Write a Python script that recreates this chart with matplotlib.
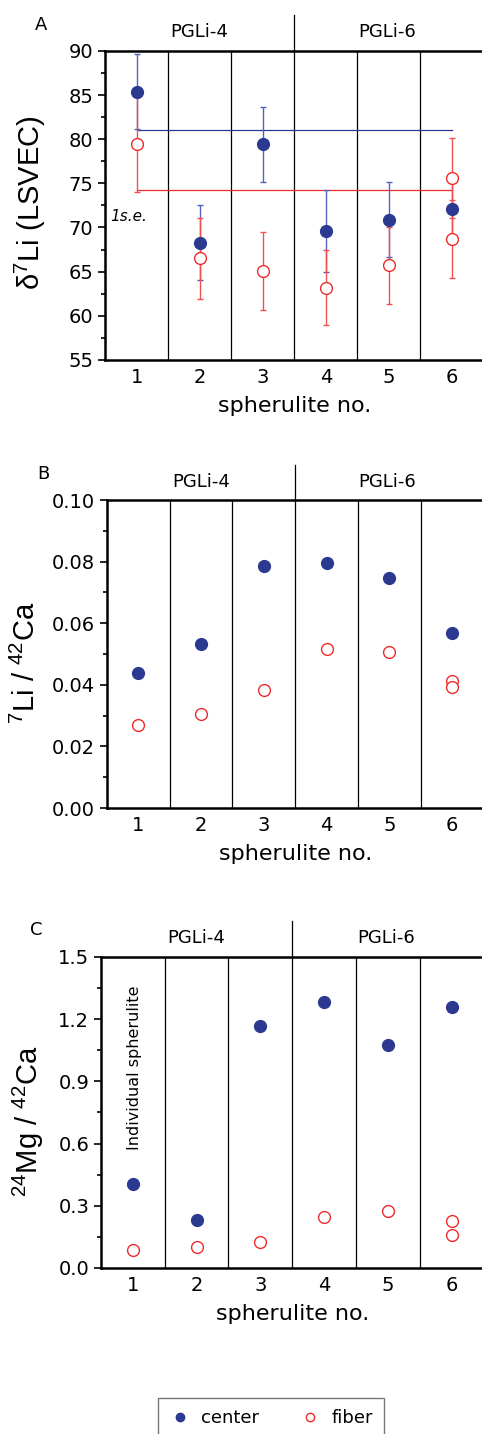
import matplotlib
matplotlib.use("Agg")
import matplotlib.pyplot as plt
from matplotlib.lines import Line2D

plt.rcParams['font.family'] = ['DejaVu Sans']
plt.rcParams['mathtext.fontset'] = 'custom'
plt.rcParams['mathtext.rm'] = 'Liberation Sans'
plt.rcParams['mathtext.it'] = 'Liberation Sans:italic'

# data
spherulite = [1, 2, 3, 4, 5, 6]
fiber_x = [1, 2, 3, 4, 5, 6, 6]

d7li_center = [85.4, 68.3, 79.4, 69.6, 70.9, 72.1]
d7li_center_err = [4.2, 4.3, 4.2, 4.6, 4.2, 4.0]
d7li_fiber = [79.4, 66.5, 65.1, 63.2, 65.7, 75.6, 68.7]
d7li_fiber_err = [5.4, 4.6, 4.4, 4.2, 4.4, 4.5, 4.4]
d7li_center_mean = 81.0
d7li_fiber_mean = 74.3

li_ca_center = [0.0440, 0.0534, 0.0786, 0.0795, 0.0748, 0.0567]
li_ca_fiber = [0.0270, 0.0306, 0.0382, 0.0517, 0.0507, 0.0414, 0.0393]

mg_ca_center = [0.403, 0.229, 1.167, 1.284, 1.076, 1.257]
mg_ca_fiber = [0.087, 0.100, 0.127, 0.246, 0.277, 0.224, 0.161]

dividers = [1.5, 2.5, 3.5, 4.5, 5.5]
group_split = 3.5
groups = ['PGLi-4', 'PGLi-6']
group_pos = [2.0, 4.97]

blue = '#2b3990'
blue_err = '#5562b5'
red = '#ee2a2a'
red_err = '#f05050'

fig = plt.figure(figsize=(4.82, 14.34), dpi=100)

# [left, bottom, width, height]
axA = fig.add_axes([0.218, 0.749, 0.785, 0.2155])
axB = fig.add_axes([0.222, 0.4365, 0.781, 0.2148])
axC = fig.add_axes([0.2095, 0.1158, 0.7935, 0.2169])


def style_axis(ax, letter, ylabel, label_x, label_y):
    ax.set_xlim(0.5, 6.5)
    ax.set_xticks(spherulite)
    for d in dividers:
        ax.axvline(d, color='black', lw=0.9, zorder=1)
    # group separator poking above the frame
    ax.plot([group_split, group_split], [1.0, 1.115], transform=ax.get_xaxis_transform(),
            color='black', lw=0.9, clip_on=False)
    for g, gx in zip(groups, group_pos):
        ax.text(gx, 1.06, g, transform=ax.get_xaxis_transform(), ha='center', va='center',
                fontsize=13)
    ax.text(-0.17, 1.085, letter, transform=ax.transAxes, ha='center', va='center', fontsize=13)
    for s in ['left', 'bottom', 'top']:
        ax.spines[s].set_linewidth(1.8)
    ax.spines['right'].set_visible(False)
    ax.tick_params(axis='y', which='major', direction='out', length=5, width=1.2, labelsize=14)
    ax.tick_params(axis='y', which='minor', direction='out', length=3, width=1.2)
    ax.tick_params(axis='x', length=0, labelsize=14, pad=6)
    ax.set_xlabel('spherulite no.', fontsize=16, labelpad=6)
    ax.set_ylabel(ylabel, fontsize=21, family='Liberation Sans')
    ax.yaxis.set_label_coords(label_x, label_y)


# panel A
axA.errorbar(spherulite, d7li_center, yerr=d7li_center_err, fmt='none', ecolor=blue_err,
             elinewidth=1.0, capsize=2.5, zorder=3)
axA.errorbar(fiber_x, d7li_fiber, yerr=d7li_fiber_err, fmt='none', ecolor=red_err,
             elinewidth=1.0, capsize=2.5, zorder=3)
axA.plot([spherulite[0], spherulite[-1]], [d7li_center_mean] * 2, color=blue, lw=0.9, zorder=2)
axA.plot([spherulite[0], spherulite[-1]], [d7li_fiber_mean] * 2, color=red, lw=0.9, zorder=2)
axA.plot(spherulite, d7li_center, 'o', ms=8.5, color=blue, mec=blue, zorder=5)
axA.plot(fiber_x, d7li_fiber, 'o', ms=8.5, mfc='white', mec=red, mew=1.0, zorder=4)
axA.text(0.585, 71.3, '1s.e.', fontsize=11, style='italic', ha='left', va='center')
axA.set_ylim(55, 90)
axA.set_yticks(range(55, 91, 5))
axA.set_yticks([57.5 + 5 * i for i in range(7)], minor=True)
style_axis(axA, 'A', r'$\mathrm{\delta}^7$Li (LSVEC)', -0.15, 0.51)

# panel B
axB.plot(spherulite, li_ca_center, 'o', ms=8.5, color=blue, zorder=5)
axB.plot(fiber_x, li_ca_fiber, 'o', ms=8.5, mfc='white', mec=red, mew=1.0, zorder=4)
axB.set_ylim(0, 0.10)
axB.set_yticks([0, 0.02, 0.04, 0.06, 0.08, 0.10])
axB.set_yticklabels(['0.00', '0.02', '0.04', '0.06', '0.08', '0.10'])
axB.set_yticks([0.01, 0.03, 0.05, 0.07, 0.09], minor=True)
style_axis(axB, 'B', r'$^7$Li / $^{42}$Ca', -0.175, 0.47)

# panel C
axC.plot(spherulite, mg_ca_center, 'o', ms=8.5, color=blue, zorder=5)
axC.plot(fiber_x, mg_ca_fiber, 'o', ms=8.5, mfc='white', mec=red, mew=1.0, zorder=4)
axC.set_ylim(0, 1.5)
axC.set_yticks([0, 0.3, 0.6, 0.9, 1.2, 1.5])
axC.set_yticklabels(['0.0', '0.3', '0.6', '0.9', '1.2', '1.5'])
axC.set_yticks([0.15, 0.45, 0.75, 1.05, 1.35], minor=True)
axC.text(1.03, 0.965, 'Individual spherulite', rotation=90, ha='center', va='center',
         fontsize=11.5)
style_axis(axC, 'C', r'$^{24}$Mg / $^{42}$Ca', -0.145, 0.47)

# legend at the bottom
handles = [Line2D([], [], marker='o', ls='none', ms=6, color=blue, label='center'),
           Line2D([], [], marker='o', ls='none', ms=6, mfc='white', mec=red, mew=1.0, label='fiber')]
fig.legend(handles=handles, loc='upper center', bbox_to_anchor=(0.562, 0.0251), ncol=2,
           fontsize=13, frameon=True, fancybox=False, edgecolor='#555555', handletextpad=0.6,
           columnspacing=2.2, borderpad=0.6, handlelength=1.2, borderaxespad=0)

fig.savefig('out.png', dpi=100)
